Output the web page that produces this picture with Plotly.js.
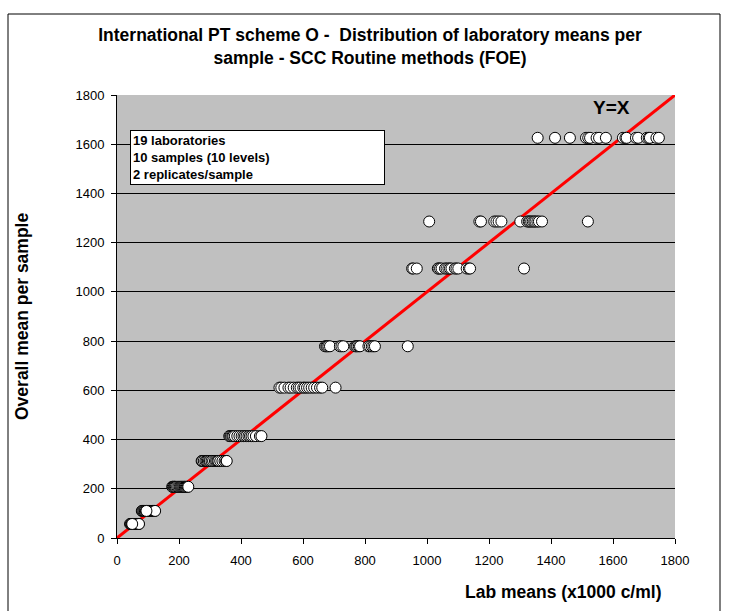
<!DOCTYPE html>
<html>
<head>
<meta charset="utf-8">
<script src="https://cdn.plot.ly/plotly-3.0.1.min.js"></script>
<style>html,body{margin:0;padding:0;background:#fff;}#chart{width:729px;height:611px;}</style>
</head>
<body>
<div id="chart"></div>
<script>
// Overall mean per sample (y) for the 10 samples
const sampleLevels = [57, 110, 208, 313, 414, 611, 779, 1095, 1286, 1626];
// Lab means (x) per sample
const labMeans57   = [42, 44, 46, 48, 50, 52, 53, 55, 57, 58, 60, 61, 63, 65, 66, 68, 70, 71, 49];
const labMeans110  = [80, 82, 85, 88, 90, 93, 96, 99, 101, 104, 107, 110, 113, 115, 117, 119, 121, 123, 95];
const labMeans208  = [178, 180, 183, 185, 187, 190, 194, 198, 202, 205, 208, 211, 214, 217, 219, 222, 225, 228, 230];
const labMeans313  = [273, 275, 280, 285, 289, 293, 297, 300, 305, 310, 316, 320, 324, 327, 333, 340, 347, 352, 354];
const labMeans414  = [362, 365, 368, 372, 375, 380, 388, 395, 402, 408, 413, 418, 424, 429, 434, 440, 448, 461, 466];
const labMeans611  = [524, 530, 540, 553, 560, 570, 580, 586, 592, 601, 606, 613, 620, 628, 636, 645, 655, 662, 705];
const labMeans779  = [671, 675, 678, 682, 687, 719, 724, 730, 768, 772, 775, 780, 784, 811, 816, 822, 827, 832, 938];
const labMeans1095 = [952, 956, 967, 1035, 1037, 1042, 1047, 1058, 1063, 1069, 1074, 1079, 1090, 1095, 1101, 1128, 1135, 1139, 1313];
const labMeans1286 = [1007, 1169, 1174, 1217, 1224, 1231, 1240, 1301, 1323, 1328, 1331, 1336, 1341, 1346, 1350, 1356, 1361, 1371, 1519];
const labMeans1626 = [1357, 1413, 1461, 1513, 1520, 1526, 1547, 1555, 1577, 1632, 1640, 1644, 1674, 1681, 1709, 1715, 1719, 1740, 1748];
const allLabMeans = [labMeans57, labMeans110, labMeans208, labMeans313, labMeans414,
                     labMeans611, labMeans779, labMeans1095, labMeans1286, labMeans1626];
// Y = X reference line end points
const lineX = [0, 1800];
const lineY = [0, 1800];
const tickVals = [0, 200, 400, 600, 800, 1000, 1200, 1400, 1600, 1800];

const xs = [], ys = [];
allLabMeans.forEach((arr, i) => arr.forEach(v => { xs.push(v); ys.push(sampleLevels[i]); }));

const font = "'Liberation Sans', Arial, sans-serif";

const traces = [
  {
    x: lineX, y: lineY, type: 'scatter', mode: 'lines',
    line: {color: '#ff0000', width: 3}, hoverinfo: 'skip', showlegend: false
  },
  {
    x: xs, y: ys, type: 'scatter', mode: 'markers',
    marker: {symbol: 'circle', size: 11, color: '#ffffff', line: {color: '#000000', width: 1}},
    showlegend: false
  }
];

const L = 117, R = 675, T = 95, B = 538;
const W = R - L, H = B - T;
const px = p => (p - L) / W;
const py = p => (B - p) / H;

const layout = {
  width: 729, height: 611,
  margin: {l: L, r: 729 - R, t: T, b: 611 - B},
  paper_bgcolor: '#ffffff',
  plot_bgcolor: '#c0c0c0',
  font: {family: font, color: '#000000', size: 13},
  title: {
    text: '<b>International PT scheme O -  Distribution of laboratory means per<br>sample - SCC Routine methods (FOE)</b>',
    font: {family: font, size: 17.5, color: '#000'},
    xref: 'container', x: 370 / 729, xanchor: 'center',
    yref: 'container', y: 1 - 41 / 611, yanchor: 'middle'
  },
  xaxis: {
    range: [0, 1800], tickvals: tickVals, ticktext: tickVals.map(String),
    showgrid: false, zeroline: false,
    showline: true, linecolor: '#000', linewidth: 1,
    ticks: 'outside', ticklen: 5, tickcolor: '#000',
    ticklabelstandoff: 5,
    tickfont: {family: font, size: 13, color: '#000'},
    fixedrange: true
  },
  yaxis: {
    range: [0, 1800], tickvals: tickVals, ticktext: tickVals.map(String),
    showgrid: true, gridcolor: '#000000', gridwidth: 1,
    zeroline: false,
    showline: true, linecolor: '#000', linewidth: 1,
    ticks: 'outside', ticklen: 5, tickcolor: '#000',
    ticklabelstandoff: 4,
    tickfont: {family: font, size: 13, color: '#000'},
    fixedrange: true
  },
  shapes: [
    {type: 'rect', xref: 'paper', yref: 'paper',
     x0: px(8), x1: px(720), y0: py(640), y1: py(14),
     line: {color: '#000', width: 1}, fillcolor: 'rgba(0,0,0,0)', layer: 'below'}
  ],
  annotations: [
    {xref: 'paper', yref: 'paper', x: px(563), y: py(592), xanchor: 'center', yanchor: 'middle',
     text: '<b>Lab means (x1000 c/ml)</b>', showarrow: false, font: {family: font, size: 17.5, color: '#000'}},
    {xref: 'paper', yref: 'paper', x: px(22), y: py(317), xanchor: 'center', yanchor: 'middle',
     text: '<b>Overall mean per sample</b>', textangle: -90, showarrow: false, font: {family: font, size: 17.5, color: '#000'}},
    {xref: 'x', yref: 'y', x: 1594, y: 1748, xanchor: 'center', yanchor: 'middle',
     text: '<b>Y=X</b>', showarrow: false, font: {family: font, size: 19, color: '#000'}},
    {xref: 'paper', yref: 'paper', x: px(130), y: py(130), xanchor: 'left', yanchor: 'top',
     text: '<b>19 laboratories<br>10 samples (10 levels)<br>2 replicates/sample</b>',
     align: 'left', showarrow: false, bgcolor: '#ffffff', bordercolor: '#000', borderwidth: 1,
     borderpad: 2, width: 249, font: {family: font, size: 13, color: '#000'}}
  ]
};

Plotly.newPlot('chart', traces, layout, {staticPlot: true, displayModeBar: false});
</script>
</body>
</html>
